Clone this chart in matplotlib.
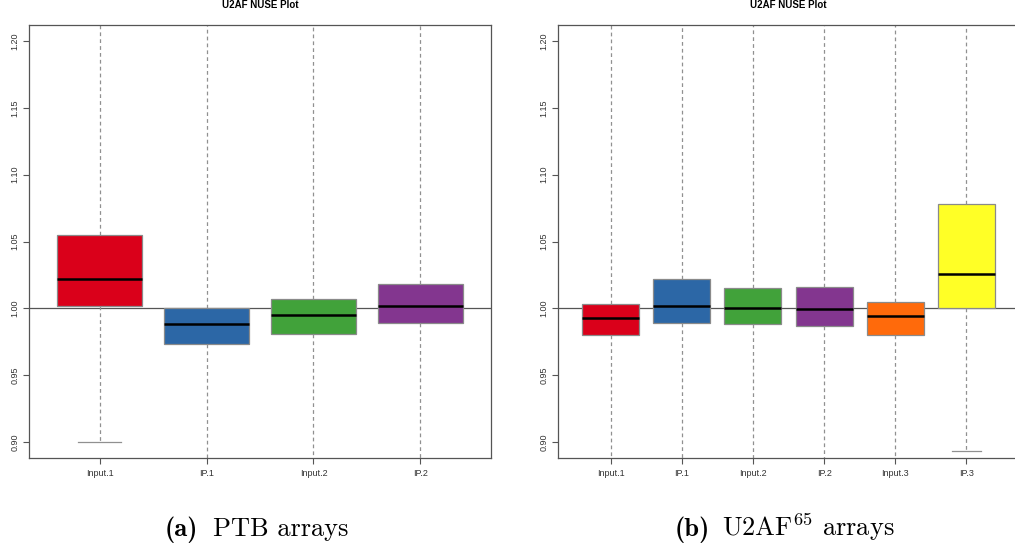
import matplotlib
matplotlib.use('Agg')
from matplotlib import pyplot as plt

# box statistics (NUSE values)
ptb_labels = ['Input.1', 'IP.1', 'Input.2', 'IP.2']
ptb_q1 = [1.002, 0.973, 0.981, 0.989]
ptb_med = [1.022, 0.988, 0.995, 1.002]
ptb_q3 = [1.055, 1.000, 1.007, 1.018]
ptb_lo = [0.900, 0.85, 0.85, 0.85]
ptb_hi = [1.30, 1.30, 1.30, 1.30]
ptb_colors = ['#DA001A', '#2C67A6', '#41A23A', '#83368F']

u2af_labels = ['Input.1', 'IP.1', 'Input.2', 'IP.2', 'Input.3', 'IP.3']
u2af_q1 = [0.980, 0.989, 0.988, 0.987, 0.980, 1.000]
u2af_med = [0.993, 1.002, 1.000, 0.9997, 0.994, 1.0256]
u2af_q3 = [1.0035, 1.022, 1.015, 1.016, 1.0047, 1.078]
u2af_lo = [0.85, 0.85, 0.85, 0.85, 0.85, 0.8933]
u2af_hi = [1.30, 1.30, 1.30, 1.30, 1.30, 1.30]
u2af_colors = ['#DA001A', '#2C67A6', '#41A23A', '#83368F', '#FF6A0B', '#FFFF26']

plt.rcParams['mathtext.fontset'] = 'cm'
plt.rcParams['font.family'] = ['Liberation Sans', 'DejaVu Sans']

W, H = 1015, 548
fig = plt.figure(figsize=(W / 100, H / 100), dpi=100)


def nuse_panel(rect, labels, q1, med, q3, lo, hi, colors):
    ax = fig.add_axes(rect)
    stats = []
    for i in range(len(labels)):
        stats.append(dict(med=med[i], q1=q1[i], q3=q3[i],
                          whislo=lo[i], whishi=hi[i], fliers=[], label=labels[i]))
    bp = ax.bxp(stats, widths=0.8, patch_artist=True, showfliers=False,
                boxprops=dict(edgecolor='#8a8a8a', linewidth=0.9),
                medianprops=dict(color='black', linewidth=1.8),
                whiskerprops=dict(color='#909090', linestyle=(0, (3, 2.5)), linewidth=0.9),
                capprops=dict(color='#909090', linewidth=0.9),
                capwidths=0.4)
    for box, c in zip(bp['boxes'], colors):
        box.set_facecolor(c)
    ax.axhline(1.0, color='#555555', linewidth=0.9, zorder=1.5)
    n = len(labels)
    ax.set_xlim(0.5 - 0.04 * n, n + 0.5 + 0.04 * n)
    ax.set_ylim(0.888, 1.212)
    ax.set_yticks([0.90, 0.95, 1.00, 1.05, 1.10, 1.15, 1.20])
    ax.set_yticklabels(['0.90', '0.95', '1.00', '1.05', '1.10', '1.15', '1.20'],
                       rotation=90, va='center', fontsize=6.5, color='#333333')
    ax.set_xticks(range(1, n + 1))
    ax.set_xticklabels(labels, fontsize=6.5, color='#333333')
    ax.tick_params(length=4, width=0.8, color='#555555')
    ax.tick_params(axis='x', pad=4)
    ax.tick_params(axis='y', pad=3)
    for s in ax.spines.values():
        s.set_color('#555555')
        s.set_linewidth(0.9)
    ax.set_title('U2AF NUSE Plot', fontsize=7, fontweight='bold', pad=12)
    return ax


# left panel: x 29..491, y 25..458 px
nuse_panel([29 / W, 1 - 458 / H, 462 / W, 433 / H],
           ptb_labels, ptb_q1, ptb_med, ptb_q3, ptb_lo, ptb_hi, ptb_colors)
# right panel: x 558..1019 px (right edge falls off the figure)
nuse_panel([558 / W, 1 - 458 / H, 461 / W, 433 / H],
           u2af_labels, u2af_q1, u2af_med, u2af_q3, u2af_lo, u2af_hi, u2af_colors)

# sub-captions in Computer Modern: bold label, roman text
cap_y = 1 - 536 / H
fig.text(165 / W, cap_y, '(a)', family='cmb10', fontsize=19, ha='left', va='baseline')
fig.text(213 / W, cap_y, 'PTB arrays', family='cmr10', fontsize=19, ha='left', va='baseline')
fig.text(675 / W, cap_y, '(b)', family='cmb10', fontsize=19, ha='left', va='baseline')
fig.text(722 / W, cap_y, r'U2AF$^{65}$ arrays', family='cmr10', fontsize=19,
         ha='left', va='baseline')

fig.savefig('out.png', dpi=100)
